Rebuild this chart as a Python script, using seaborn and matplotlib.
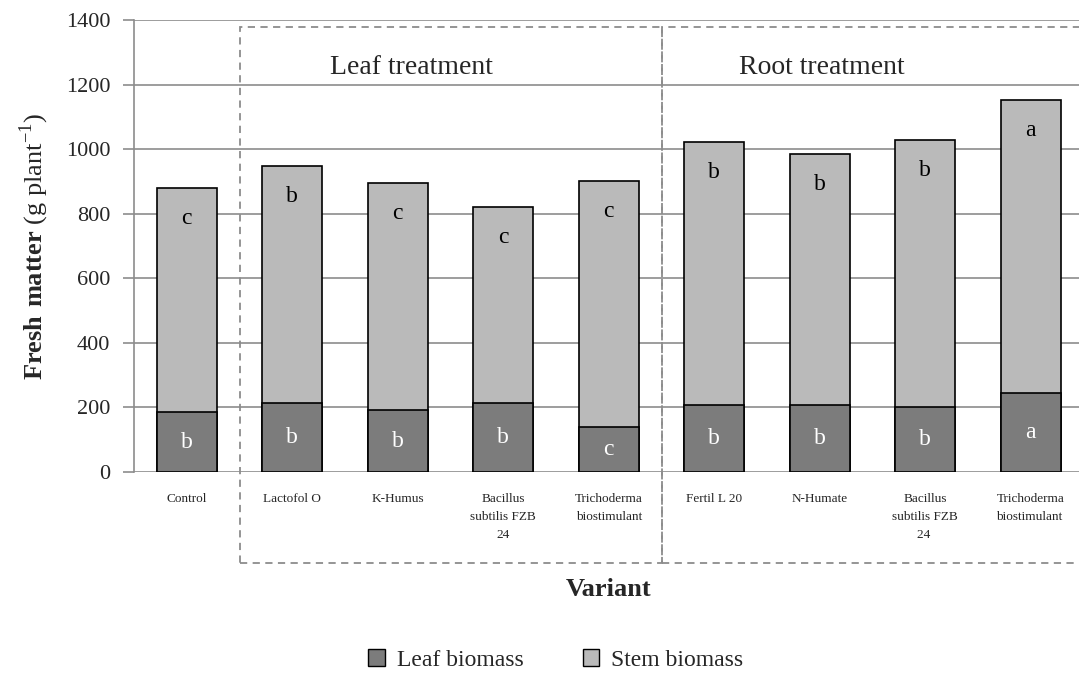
import matplotlib
matplotlib.use("Agg")
import matplotlib.pyplot as plt
import seaborn as sns
import pandas as pd
from matplotlib.patches import Rectangle, Patch
import matplotlib.transforms as mtransforms

categories = ["Control", "Lactofol O", "K-Humus", "Bacillus\nsubtilis FZB\n24",
              "Trichoderma\nbiostimulant", "Fertil L 20", "N-Humate",
              "Bacillus\nsubtilis FZB\n24 ", "Trichoderma\nbiostimulant "]
leaf = [185, 214, 192, 214, 139, 207, 207, 201, 245]
total = [880, 948, 895, 821, 901, 1022, 985, 1028, 1152]
stem = [t - l for t, l in zip(total, leaf)]
leaf_letters = ["b", "b", "b", "b", "c", "b", "b", "b", "a"]
stem_letters = ["c", "b", "c", "c", "c", "b", "b", "b", "a"]

sns.set_theme(style="white")
plt.rcParams['font.family'] = ['Liberation Serif', 'DejaVu Serif']
plt.rcParams['mathtext.fontset'] = 'custom'
plt.rcParams['mathtext.rm'] = 'Liberation Serif'
plt.rcParams['mathtext.bf'] = 'Liberation Serif:bold'

leaf_c = "#7c7c7c"
stem_c = "#bababa"

df = pd.DataFrame({"cat": categories, "leaf": leaf, "stem": stem,
                   "total": [l + s for l, s in zip(leaf, stem)]})

fig = plt.figure(figsize=(10.79, 6.75), dpi=100)
ax = fig.add_axes([134/1079, 1 - 472/675, (1083.5 - 134)/1079, (472 - 20)/675])

sns.barplot(data=df, x="cat", y="total", color=stem_c, width=0.57,
            edgecolor="black", linewidth=1.2, saturation=1, ax=ax, zorder=3)
sns.barplot(data=df, x="cat", y="leaf", color=leaf_c, width=0.57,
            edgecolor="black", linewidth=1.2, saturation=1, ax=ax, zorder=4)

ax.set_ylim(0, 1400)
ax.set_xlim(-0.5, 8.5)
ax.set_yticks(range(0, 1401, 200))
ax.yaxis.grid(True, color="#8c8c8c", linewidth=1.2, zorder=0)
ax.set_axisbelow(True)
for s in ["top", "right", "bottom"]:
    ax.spines[s].set_visible(False)
ax.spines["left"].set_color("#8c8c8c")
ax.spines["left"].set_linewidth(1.2)
ax.tick_params(axis="y", left=True, length=8, width=1.2, color="#8c8c8c",
               labelsize=16, pad=9)
ax.tick_params(axis="x", bottom=False, labelsize=9.5, pad=9)
ax.set_xticks(range(len(categories)))
ax.set_xticklabels(categories, fontsize=9.5, linespacing=1.65, va="top")

ax.set_xlabel("Variant", fontsize=19, fontweight="bold", labelpad=27)
ax.set_ylabel(r"$\mathbf{Fresh\ matter}$ (g plant$^{-1}$)", fontsize=19, labelpad=11)

for i in range(len(categories)):
    ax.text(i, leaf[i] / 2, leaf_letters[i], ha="center", va="center",
            fontsize=17, color="white", zorder=6)
    ax.text(i, total[i] - 95, stem_letters[i], ha="center", va="center",
            fontsize=17, color="black", zorder=6)

# dashed group boxes
trans = mtransforms.blended_transform_factory(ax.transData, fig.transFigure)
y0 = 1 - 563/675
y1 = 1 - 27/675
for xa, xb in [(0.5, 4.5), (4.5, 8.6)]:
    r = Rectangle((xa, y0), xb - xa, y1 - y0, transform=trans, fill=False,
                  edgecolor="#8c8c8c", linestyle=(0, (4, 3)), linewidth=1.3,
                  clip_on=False, zorder=5)
    ax.add_patch(r)

ax.text(2.13, 1252, "Leaf treatment", ha="center", va="center", fontsize=20)
ax.text(6.02, 1252, "Root treatment", ha="center", va="center", fontsize=20)

handles = [Patch(facecolor=leaf_c, edgecolor="black", label="Leaf biomass"),
           Patch(facecolor=stem_c, edgecolor="black", label="Stem biomass")]
fig.legend(handles=handles, loc="center", bbox_to_anchor=(0.515, 1 - 660/675),
           ncol=2, frameon=False, fontsize=17, handlelength=0.7,
           handleheight=0.7, columnspacing=2.5, handletextpad=0.5)

fig.savefig("out.png", dpi=100)
